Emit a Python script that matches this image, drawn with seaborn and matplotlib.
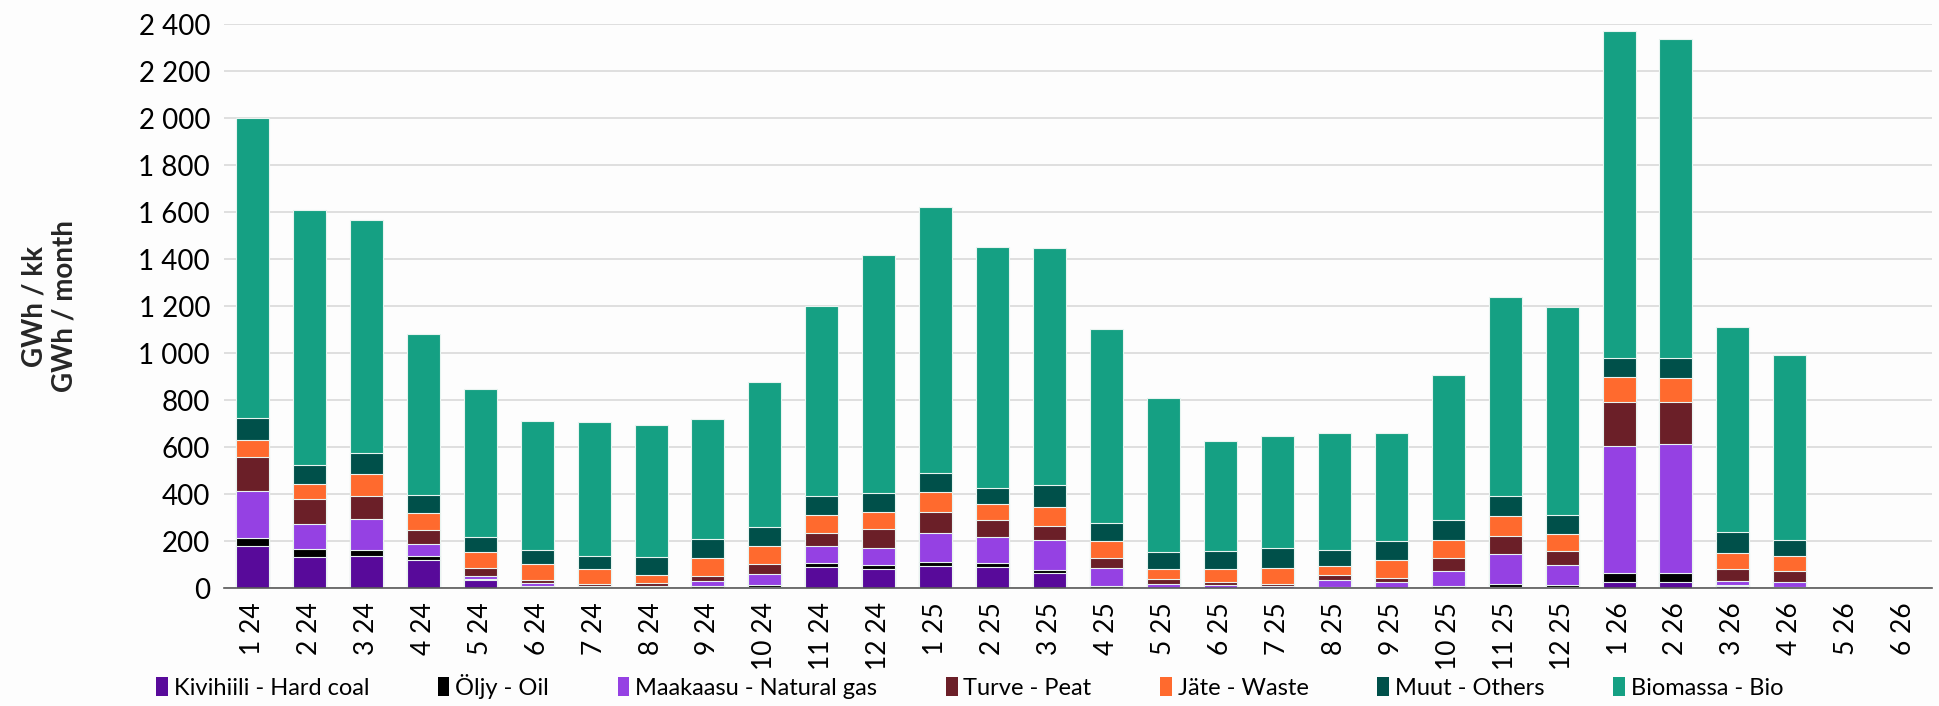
import matplotlib
matplotlib.use("Agg")
import matplotlib.pyplot as plt
from matplotlib.patches import Patch
from matplotlib.ticker import FuncFormatter, FixedLocator
import seaborn as sns
import numpy as np
import pandas as pd

months = ["1 24", "2 24", "3 24", "4 24", "5 24", "6 24", "7 24", "8 24", "9 24", "10 24", "11 24", "12 24",
          "1 25", "2 25", "3 25", "4 25", "5 25", "6 25", "7 25", "8 25", "9 25", "10 25", "11 25", "12 25",
          "1 26", "2 26", "3 26", "4 26", "5 26", "6 26"]

hard_coal = [179, 132, 136, 119, 35, 3, 2, 2, 2, 3, 89, 82,
             94, 91, 64, 2, 0, 0, 0, 0, 0, 2, 3, 3,
             28, 28, 9, 2, 0, 0]
oil = [36, 35, 27, 16, 5, 8, 4, 3, 5, 11, 16, 17,
       15, 15, 13, 9, 2, 1, 1, 3, 1, 8, 13, 11,
       38, 38, 3, 2, 0, 0]
natural_gas = [199, 107, 133, 54, 12, 12, 5, 6, 24, 46, 72, 71,
               126, 110, 127, 74, 16, 12, 8, 32, 25, 64, 127, 85,
               539, 547, 18, 21, 0, 0]
peat = [142, 103, 94, 58, 35, 11, 6, 9, 21, 41, 58, 80,
        90, 72, 61, 41, 19, 11, 8, 19, 18, 52, 78, 60,
        186, 178, 53, 49, 0, 0]
waste = [75, 67, 94, 73, 66, 70, 64, 37, 78, 79, 76, 73,
         85, 71, 80, 73, 45, 57, 68, 40, 75, 78, 84, 71,
         107, 104, 68, 63, 0, 0]
others = [94, 78, 89, 74, 63, 60, 54, 75, 81, 81, 82, 81,
          78, 68, 92, 76, 70, 75, 84, 70, 80, 87, 88, 83,
          82, 83, 87, 66, 0, 0]
bio = [1275, 1086, 993, 687, 631, 549, 573, 560, 509, 614, 808, 1013,
       1135, 1024, 1010, 828, 658, 469, 480, 497, 460, 617, 847, 882,
       1390, 1359, 872, 789, 0, 0]

series_names = ["Kivihiili - Hard coal", "Öljy - Oil", "Maakaasu - Natural gas", "Turve - Peat",
                "Jäte - Waste", "Muut - Others", "Biomassa - Bio"]
series_values = [hard_coal, oil, natural_gas, peat, waste, others, bio]
colors = ["#580a9a", "#000000", "#9541e3", "#6b1f28", "#ff6a2e", "#00504a", "#15a083"]

sns.set_style("white")
plt.rcParams["font.family"] = ["Lato", "DejaVu Sans"]
plt.rcParams["text.color"] = "black"
plt.rcParams["xtick.color"] = "black"
plt.rcParams["ytick.color"] = "black"

fig = plt.figure(figsize=(19.39, 7.06), dpi=100)
fig.patch.set_facecolor("#fdfdfd")
ax = fig.add_axes([0.1155, 0.167, 0.881, 0.799])
ax.set_facecolor("#fdfdfd")

cum = np.zeros(len(months))
cums = []
for vals in series_values:
    cum = cum + np.array(vals, dtype=float)
    cums.append(cum.copy())

# draw from top of stack downwards so each layer overlays the previous
for i in reversed(range(len(series_values))):
    d = pd.DataFrame({"month": months, "value": cums[i]})
    sns.barplot(data=d, x="month", y="value", order=months, color=colors[i],
                saturation=1, width=0.58, edgecolor="#e8f4f0", linewidth=0.8, ax=ax)

ax.set_ylim(0, 2400)
ax.set_xlim(-0.5, len(months) - 0.5)
ax.yaxis.set_major_locator(FixedLocator(np.arange(0, 2401, 200)))
ax.yaxis.set_major_formatter(FuncFormatter(lambda v, p: f"{int(v):,}".replace(",", " ")))
ax.grid(axis="y", color="#d9d9d9", linewidth=1.2)
ax.set_axisbelow(True)
for s in ["left", "right", "top"]:
    ax.spines[s].set_visible(False)
ax.spines["bottom"].set_color("#595959")
ax.spines["bottom"].set_linewidth(1.2)

ax.tick_params(axis="y", length=0, labelsize=20, pad=10)
ax.set_xticks(range(len(months)))
ax.set_xticklabels(months, rotation=90, fontsize=19)
ax.tick_params(axis="x", which="major", length=0, pad=10)
ax.set_xticks(np.arange(-0.5, len(months), 1.0), minor=True)
ax.tick_params(axis="x", which="minor", length=9, width=1.2, color="#595959")
ax.set_xlabel("")
ax.set_ylabel("GWh / kk\nGWh / month", fontsize=20, fontweight="bold", labelpad=44)

handles = [Patch(facecolor=c, edgecolor="none") for c in colors]
fig.legend(handles, series_names, loc="center", bbox_to_anchor=(0.5, 0.028), ncol=7,
           frameon=False, fontsize=17, handlelength=0.5, handleheight=0.85,
           handletextpad=0.25, columnspacing=2.9)

fig.savefig("out.png", dpi=100, facecolor=fig.get_facecolor())
